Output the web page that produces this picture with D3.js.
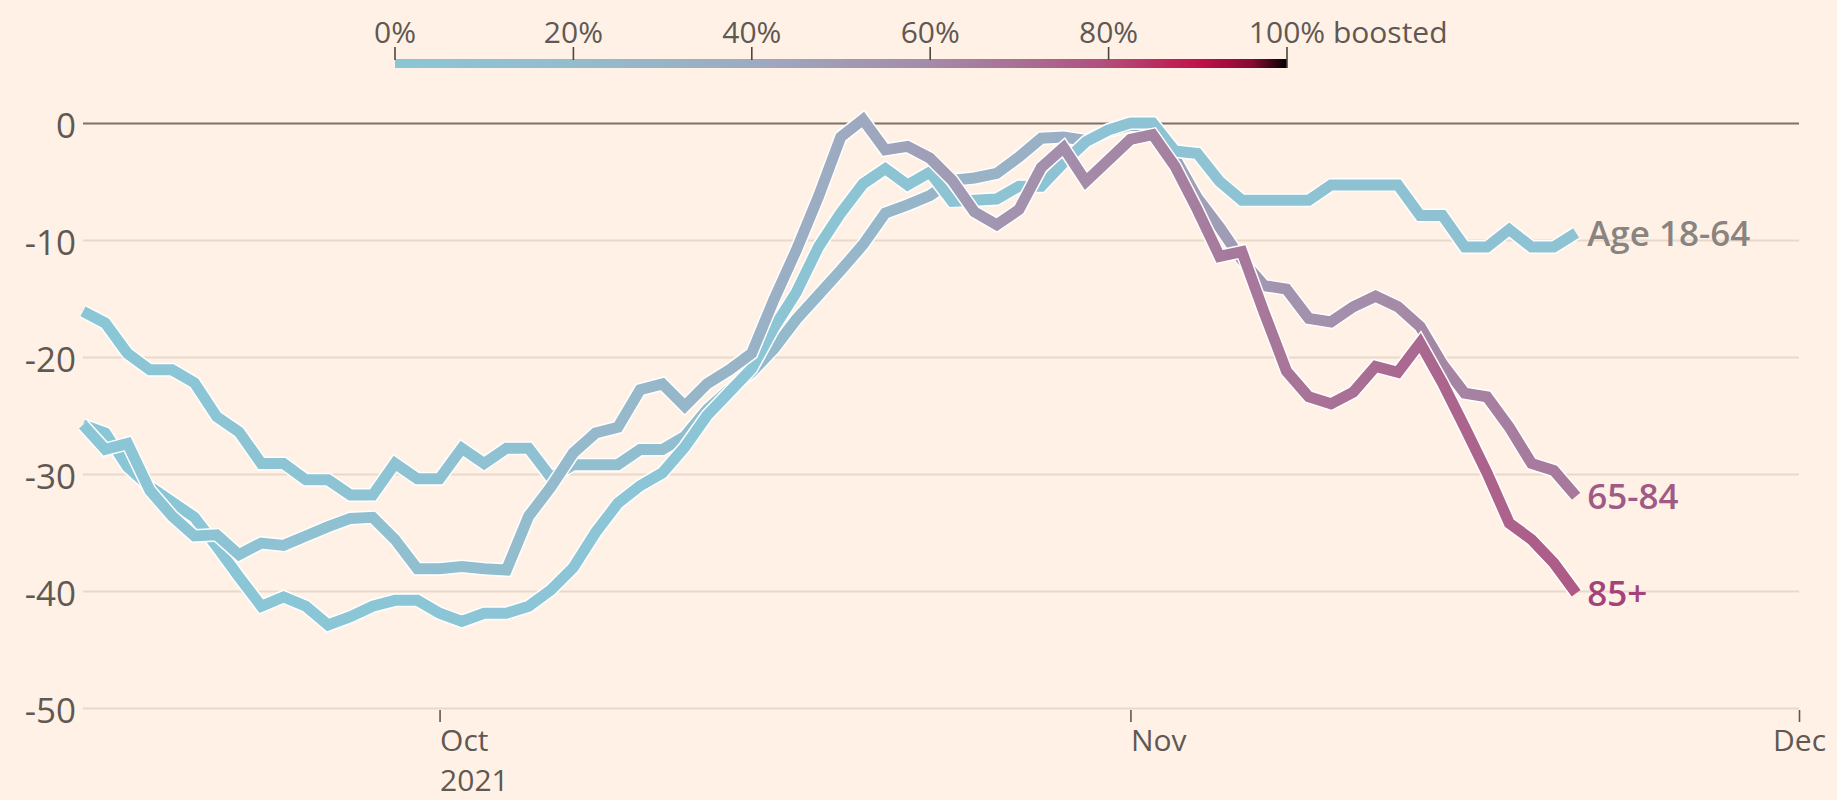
<!DOCTYPE html>
<html>
<head>
<meta charset="utf-8">
<script src="https://cdn.jsdelivr.net/npm/d3@7"></script>
<style>
  html, body { margin: 0; padding: 0; background: #fff1e5; }
  svg { display: block; }
  text { font-family: "Open Sans", "Noto Sans", sans-serif; }
</style>
</head>
<body>
<svg id="chart" width="1837" height="800"></svg>
<script>
// ---------------- DATA ----------------
const startDate = new Date(Date.UTC(2021, 8, 15));   // first daily value: 15 Sep 2021
const seriesNames = ["Age 18-64", "65-84", "85+"];

// % change, one value per day from 15 Sep to 21 Nov 2021
const age1864 = [-25.8,-26.5,-29.4,-31.1,-32.4,-33.7,-36.2,-38.8,-41.3,-40.5,
  -41.3,-42.9,-42.2,-41.3,-40.8,-40.8,-41.9,-42.6,-41.9,-41.9,
  -41.3,-39.9,-38.0,-35.0,-32.5,-31.0,-29.9,-27.7,-25.0,-23.0,
  -21.0,-17.5,-14.5,-10.6,-7.7,-5.2,-3.9,-5.3,-4.2,-6.7,
  -6.6,-6.5,-5.4,-5.4,-3.4,-1.6,-0.6,0.0,0.0,-2.4,
  -2.6,-5.0,-6.6,-6.6,-6.6,-6.6,-5.3,-5.3,-5.3,-5.3,
  -7.9,-7.9,-10.6,-10.6,-9.1,-10.6,-10.6,-9.4];

const age6584 = [-16.1,-17.1,-19.7,-21.1,-21.1,-22.2,-25.1,-26.4,-29.1,-29.1,
  -30.5,-30.5,-31.8,-31.8,-29.1,-30.4,-30.4,-27.8,-29.1,-27.8,
  -27.8,-30.3,-29.2,-29.2,-29.2,-27.9,-27.9,-26.8,-24.5,-22.8,
  -21.3,-19.3,-16.8,-14.7,-12.6,-10.4,-7.7,-7.0,-6.2,-4.9,
  -4.7,-4.3,-2.9,-1.3,-1.2,-1.5,-0.7,-0.2,-0.3,-3.0,
  -6.4,-8.9,-11.7,-13.9,-14.2,-16.7,-17.0,-15.7,-14.8,-15.7,
  -17.4,-20.6,-23.1,-23.4,-26.0,-29.1,-29.7,-31.9];

const age85 = [-25.8,-27.9,-27.4,-31.4,-33.6,-35.3,-35.2,-36.9,-35.9,-36.1,
  -35.3,-34.5,-33.8,-33.7,-35.6,-38.1,-38.1,-37.9,-38.1,-38.2,
  -33.6,-31.1,-28.2,-26.5,-26.0,-22.8,-22.3,-24.2,-22.3,-21.1,
  -19.7,-15.1,-10.9,-6.3,-1.2,0.3,-2.3,-2.0,-3.0,-4.9,
  -7.6,-8.7,-7.4,-3.8,-2.1,-5.0,-3.2,-1.4,-1.0,-3.7,
  -7.4,-11.4,-11.0,-16.2,-21.2,-23.4,-24.0,-23.0,-20.8,-21.3,
  -18.8,-22.2,-26.0,-29.9,-34.2,-35.6,-37.6,-40.2];

// share boosted (%), estimated from the line colour, same days
const boost1864 = [0,0,0,0,0,0,0,0,0.5,0.5,
  0.5,0.5,1,1,1,1,1,1.5,1.5,1.5,
  1.5,2,2,2,2,2.5,2.5,2.5,3,3,
  3,3,3.5,3.5,3.5,4,4,4,4.5,4.5,
  4.5,5,5,5,5.5,5.5,5.5,6,6,6,
  6.5,6.5,6.5,7,7,7,7.5,7.5,7.5,8,
  8,8,8.5,8.5,8.5,9,9,9];

const boost6584 = [0,0.5,1,1.5,2,2.5,3,3.5,4,4.5,
  5,5.5,6,6.5,7,7.5,8,8.5,9,10,
  11,12,13,14,15,16,17,18,19,20,
  21,22,23,24,25,26,27,28,29,30,
  31,32,33,34,35,37,39,41,43,45,
  47,49,51,53,55,56,57,58,59,60,
  61,62,63,64,65,66,66,67];

const boost85 = [0,1,2,3,4,5,6,7,8,9,
  10,11,12,13,14,15,16,17,18,19,
  20,21,22,23,24,25,26,27,28,30,
  32,34,36,38,40,42,44,46,48,50,
  52,54,56,57,58,60,61,62,63,64,
  65,66,67,67,68,69,70,70,71,72,
  72,73,73,74,74,75,75,76];

const yTicks = [0, -10, -20, -30, -40, -50];
const xTickDates = [new Date(Date.UTC(2021, 9, 1)), new Date(Date.UTC(2021, 10, 1)), new Date(Date.UTC(2021, 11, 1))];
const xTickLabels = [["Oct", "2021"], ["Nov"], ["Dec"]];
const legendTicks = [0, 20, 40, 60, 80, 100];
const legendSuffix = " boosted";

// colour ramp of the legend (boost % -> colour)
const rampStops = [0, 20, 40, 60, 70, 80, 90, 96, 100];
const rampColors = ["#8bc6d6", "#93bccd", "#9dabc1", "#a48ba8", "#a87095", "#b24c7b", "#c2124b", "#8a0a33", "#000000"];

// ---------------- STYLE ----------------
const W = 1837, H = 800;
const bg = "#fff1e5";
const textColor = "#5f5853";
const labelColors = {"Age 18-64": "#8a8480", "65-84": "#a05a86", "85+": "#a4437b"};

const svg = d3.select("#chart");
svg.append("rect").attr("width", W).attr("height", H).attr("fill", bg);
const defs = svg.append("defs");

const x = d3.scaleUtc()
  .domain([startDate, new Date(Date.UTC(2021, 11, 1))])
  .range([83, 1799]);
const y = d3.scaleLinear().domain([-50, 0]).range([708, 123]);
const colour = d3.scaleLinear().domain(rampStops).range(rampColors).interpolate(d3.interpolateRgb);

const dates = d3.utcDay.range(startDate, d3.utcDay.offset(startDate, age1864.length));

// ---------------- Y AXIS / GRID ----------------
const yAxis = svg.append("g")
  .attr("transform", `translate(${x.range()[0]},0)`)
  .call(d3.axisLeft(y).tickValues(yTicks).tickSize(-(x.range()[1] - x.range()[0])).tickPadding(7).tickFormat(d => String(d)));
yAxis.select(".domain").remove();
yAxis.selectAll(".tick line")
  .attr("stroke", d => d === 0 ? "#7b716a" : "#e8d9cc")
  .attr("stroke-width", d => d === 0 ? 2.2 : 2);
yAxis.selectAll(".tick text")
  .attr("fill", textColor)
  .attr("font-size", 35)
  .attr("dy", "0.4em")
  .style("font-family", '"Open Sans", sans-serif');

// ---------------- X AXIS ----------------
const xAxis = svg.append("g")
  .attr("transform", `translate(0,${y(-50) + 2})`)
  .call(d3.axisBottom(x).tickValues(xTickDates).tickSize(12).tickFormat(""));
xAxis.select(".domain").remove();
xAxis.selectAll(".tick line").attr("stroke", textColor).attr("stroke-width", 1.6);
xAxis.selectAll(".tick text").remove();
xAxis.selectAll(".tick").each(function(d, i) {
  const lines = xTickLabels[i];
  lines.forEach((s, j) => {
    d3.select(this).append("text")
      .attr("fill", textColor)
      .attr("font-size", 30)
      .attr("text-anchor", i === xTickLabels.length - 1 ? "middle" : "start")
      .style("font-family", '"Open Sans", sans-serif')
      .attr("x", 0).attr("y", 41 + j * 40)
      .text(s);
  });
});

// ---------------- LEGEND ----------------
const lx = d3.scaleLinear().domain([0, 100]).range([395, 1287]);
const lg = defs.append("linearGradient").attr("id", "legendGrad")
  .attr("gradientUnits", "userSpaceOnUse")
  .attr("x1", lx(0)).attr("x2", lx(100)).attr("y1", 0).attr("y2", 0);
d3.range(0, 101, 1).forEach(p => {
  lg.append("stop").attr("offset", p / 100).attr("stop-color", colour(p));
});
const legend = svg.append("g");
legend.append("rect")
  .attr("x", lx(0)).attr("y", 59)
  .attr("width", lx(100) - lx(0)).attr("height", 9)
  .attr("fill", "url(#legendGrad)");
legend.selectAll("line.lt").data(legendTicks).join("line")
  .attr("class", "lt")
  .attr("x1", d => lx(d)).attr("x2", d => lx(d))
  .attr("y1", 47).attr("y2", d => d === 100 ? 68 : 60)
  .attr("stroke", "#4e4540").attr("stroke-width", 1.6);
legend.selectAll("text.ll").data(legendTicks).join("text")
  .attr("class", "ll")
  .attr("fill", textColor)
  .attr("font-size", 30)
  .attr("y", 43)
  .each(function(d, i) {
    const t = d3.select(this);
    const lbl = d + "%";
    if (i === legendTicks.length - 1) {
      t.text(lbl);
      const w = this.getComputedTextLength();
      t.text(lbl + legendSuffix).attr("text-anchor", "start").attr("x", lx(d) - w / 2);
    } else {
      t.text(lbl).attr("text-anchor", "middle").attr("x", lx(d));
    }
  });

// ---------------- LINES ----------------
const series = [
  {name: "65-84", values: age6584, boost: boost6584},
  {name: "Age 18-64", values: age1864, boost: boost1864},
  {name: "85+", values: age85, boost: boost85}
];

const line = d3.line().x(d => x(d.date)).y(d => y(d.v));
const plot = svg.append("g");

series.forEach((s, si) => {
  const pts = s.values.map((v, i) => ({date: dates[i], v, b: s.boost[i]}));
  const x0 = x(pts[0].date), x1 = x(pts[pts.length - 1].date);
  const gid = "grad" + si;
  const g = defs.append("linearGradient").attr("id", gid)
    .attr("gradientUnits", "userSpaceOnUse")
    .attr("x1", x0).attr("x2", x1).attr("y1", 0).attr("y2", 0);
  pts.forEach(p => {
    g.append("stop").attr("offset", (x(p.date) - x0) / (x1 - x0)).attr("stop-color", colour(p.b));
  });
  plot.append("path").datum(pts)
    .attr("d", line)
    .attr("fill", "none")
    .attr("stroke", "#ffffff")
    .attr("stroke-width", 14)
    .attr("stroke-linejoin", "miter")
    .attr("stroke-miterlimit", 3);
  plot.append("path").datum(pts)
    .attr("d", line)
    .attr("fill", "none")
    .attr("stroke", `url(#${gid})`)
    .attr("stroke-width", 11)
    .attr("stroke-linejoin", "miter")
    .attr("stroke-miterlimit", 3);
});

// end labels
series.forEach(s => {
  const last = s.values.length - 1;
  svg.append("text")
    .attr("x", x(dates[last]) + 11)
    .attr("y", y(s.values[last]))
    .attr("dy", "0.36em")
    .attr("font-size", 35)
    .attr("font-weight", 600)
    .attr("fill", labelColors[s.name])
    .text(s.name);
});
</script>
</body>
</html>
